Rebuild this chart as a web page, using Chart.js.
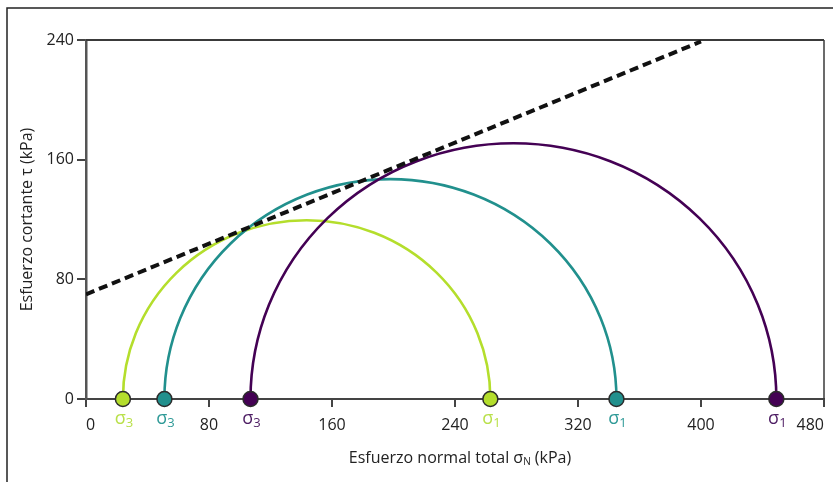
<!DOCTYPE html>
<html>
<head>
<meta charset="utf-8">
<script src="https://cdn.jsdelivr.net/npm/chart.js@4.4.1/dist/chart.umd.min.js"></script>
<style>
  html, body { margin: 0; padding: 0; background: #fff; }
  #wrap { width: 833px; height: 482px; position: relative; }
</style>
</head>
<body>
<div id="wrap"><canvas id="mohrChart"></canvas></div>
<script>
// Mohr circles: one per test (sigma3, sigma1) in kPa
const sigma3 = [24, 51, 107]
const sigma1 = [263, 345, 449]
const circleNames = ['Ensayo 1', 'Ensayo 2', 'Ensayo 3']

// failure envelope (dashed)
const envelopeX = [0, 400]
const envelopeY = [70, 239]

const xTicks = [0, 80, 160, 240, 320, 400, 480]
const yTicks = [0, 80, 160, 240]

const circleColors = ['#b4de2c', '#21908d', '#440154']
const labelColors = ['#b9e04a', '#2f9a97', '#4d1d63']
const FONT = "'Open Sans', 'Noto Sans', sans-serif"

// draws the semicircles through the chart scales
const mohrArcs = {
  id: 'mohrArcs',
  beforeDatasetsDraw(chart) {
    const { ctx, scales: { x, y }, chartArea } = chart
    ctx.save()
    // top and right frame of the plot box
    ctx.strokeStyle = '#3a3a3a'
    ctx.lineWidth = 2
    ctx.beginPath()
    ctx.moveTo(chartArea.left, chartArea.top)
    ctx.lineTo(chartArea.right, chartArea.top)
    ctx.stroke()
    ctx.lineWidth = 1.5
    ctx.beginPath()
    ctx.moveTo(chartArea.right, chartArea.top)
    ctx.lineTo(chartArea.right, chartArea.bottom)
    ctx.stroke()

    sigma3.forEach((s3, i) => {
      const s1 = sigma1[i]
      const c = (s1 + s3) / 2
      const r = (s1 - s3) / 2
      const cx = x.getPixelForValue(c)
      const cy = y.getPixelForValue(0)
      const rx = x.getPixelForValue(c + r) - cx
      const ry = cy - y.getPixelForValue(r)
      ctx.strokeStyle = circleColors[i]
      ctx.lineWidth = 2.6
      ctx.beginPath()
      ctx.ellipse(cx, cy, rx, ry, 0, Math.PI, 2 * Math.PI)
      ctx.stroke()
    })
    ctx.restore()
  },
  afterDraw(chart) {
    const { ctx, scales: { x, y }, chartArea } = chart
    ctx.save()
    // sigma labels under each point
    ctx.textBaseline = 'alphabetic'
    sigma3.forEach((s3, i) => {
      [[s3, '3'], [sigma1[i], '1']].forEach(([v, sub]) => {
        ctx.font = `18px ${FONT}`
        const w1 = ctx.measureText('σ').width
        ctx.font = `13px ${FONT}`
        const w2 = ctx.measureText(sub).width
        const px = x.getPixelForValue(v)
        const start = px - (w1 + w2) / 2 + 1
        ctx.fillStyle = labelColors[i]
        ctx.font = `18px ${FONT}`
        ctx.textAlign = 'left'
        ctx.fillText('σ', start, 424)
        ctx.font = `13px ${FONT}`
        ctx.fillText(sub, start + w1, 427)
      })
    })

    // x axis title with subscript
    const parts = [
      ['Esfuerzo normal total σ', 16, 0],
      ['N', 10, 2],
      [' (kPa)', 16, 0]
    ]
    let total = 0
    parts.forEach(([t, s]) => {
      ctx.font = `${s}px ${FONT}`
      total += ctx.measureText(t).width
    })
    let tx = (chartArea.left + chartArea.right) / 2 - total / 2 + 5
    ctx.fillStyle = '#222'
    parts.forEach(([t, s, dy]) => {
      ctx.font = `${s}px ${FONT}`
      ctx.fillText(t, tx, 463 + dy)
      tx += ctx.measureText(t).width
    })

    // outer frame (left and top)
    ctx.strokeStyle = '#222'
    ctx.lineWidth = 1.5
    ctx.beginPath()
    ctx.moveTo(7, 482)
    ctx.lineTo(7, 8)
    ctx.lineTo(833, 8)
    ctx.stroke()
    ctx.restore()
  }
}

const ctx = document.getElementById('mohrChart').getContext('2d')

const datasets = [{
  label: 'Envolvente de falla',
  data: envelopeX.map((v, i) => ({ x: v, y: envelopeY[i] })),
  showLine: true,
  borderColor: '#111',
  borderWidth: 4,
  borderDash: [9, 5],
  pointRadius: 0,
  order: 1
}]

sigma3.forEach((s3, i) => {
  datasets.push({
    label: circleNames[i],
    data: [{ x: s3, y: 0 }, { x: sigma1[i], y: 0 }],
    backgroundColor: circleColors[i],
    borderColor: '#2b2b2b',
    borderWidth: 1.5,
    pointRadius: 7.5,
    clip: false,
    order: 0
  })
})

new Chart(ctx, {
  type: 'scatter',
  data: { datasets },
  options: {
    responsive: true,
    maintainAspectRatio: false,
    animation: false,
    layout: { padding: { top: 40, right: 4, left: 0, bottom: 0 } },
    plugins: {
      legend: { display: false },
      tooltip: { enabled: false }
    },
    scales: {
      x: {
        min: 0,
        max: 480,
        afterBuildTicks: scale => {
          scale.ticks = xTicks.map(v => ({ value: v }))
        },
        afterFit: scale => {
          scale.height = 83
          scale.paddingRight = 4
          scale.paddingLeft = 0
        },
        border: { display: true, color: '#444', width: 2 },
        grid: {
          display: true,
          drawOnChartArea: false,
          drawTicks: true,
          tickLength: 8,
          color: '#444',
          lineWidth: 2
        },
        ticks: {
          align: 'inner',
          padding: 9,
          color: '#222',
          font: { family: FONT, size: 16 }
        }
      },
      y: {
        min: 0,
        max: 240,
        afterBuildTicks: scale => {
          scale.ticks = yTicks.map(v => ({ value: v }))
        },
        afterFit: scale => {
          scale.width = 86
        },
        border: { display: true, color: '#555', width: 2.5 },
        grid: {
          display: true,
          drawOnChartArea: false,
          drawTicks: true,
          tickLength: 9,
          color: '#444',
          lineWidth: 2
        },
        ticks: {
          padding: 3,
          color: '#222',
          font: { family: FONT, size: 16 }
        },
        title: {
          display: true,
          text: 'Esfuerzo cortante τ (kPa)',
          color: '#222',
          font: { family: FONT, size: 16 },
          padding: { top: 18, bottom: 0 }
        }
      }
    }
  },
  plugins: [mohrArcs]
})
</script>
</body>
</html>
